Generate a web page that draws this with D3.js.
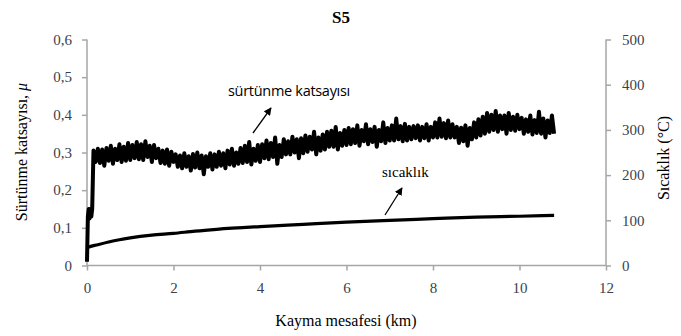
<!DOCTYPE html>
<html lang="tr">
<head>
<meta charset="UTF-8" />
<title>S5</title>
<script src="https://d3js.org/d3.v7.min.js"></script>
<style>
    body { margin: 0; background: #fff; }
</style>
</head>
<body>
<svg id="chart" width="681" height="336"></svg>
<script>
    // ticks
    const distanceTicks = [0, 2, 4, 6, 8, 10, 12];
    const muTicks = [0, 0.1, 0.2, 0.3, 0.4, 0.5, 0.6];
    const tempTicks = [0, 100, 200, 300, 400, 500];

    // friction coefficient: run-in part
    const muStartKm = [0, 0.02, 0.04, 0.06, 0.08, 0.10, 0.12];
    const muStart = [0.01, 0.13, 0.15, 0.125, 0.15, 0.13, 0.15];

    // friction coefficient: sampled every 0.05 km from 0.15 km
    const muFromKm = 0.15;
    const muStepKm = 0.05;
    const muValues = [
        0.305, 0.275, 0.31, 0.272, 0.308, 0.265, 0.312, 0.278, 0.318, 0.27, 0.31, 0.28, 0.322, 0.275, 0.315, 0.278, 0.325, 0.28,
        0.32, 0.285, 0.328, 0.282, 0.322, 0.28, 0.33, 0.288, 0.318, 0.275, 0.32, 0.285,
        0.31, 0.272, 0.305, 0.27, 0.308, 0.265, 0.302, 0.275,
        0.295, 0.262, 0.292, 0.258, 0.298, 0.262, 0.29, 0.252, 0.296, 0.26, 0.30, 0.258, 0.292, 0.242, 0.29, 0.262, 0.298, 0.255, 0.295, 0.262,
        0.302, 0.265, 0.298, 0.258, 0.305, 0.268, 0.31, 0.265, 0.30, 0.27,
        0.312, 0.272, 0.318, 0.275, 0.328, 0.268, 0.31, 0.278, 0.32, 0.275,
        0.322, 0.285, 0.332, 0.282, 0.325, 0.288, 0.34, 0.27, 0.32, 0.288,
        0.335, 0.295, 0.33, 0.295, 0.342, 0.30, 0.335, 0.285, 0.338, 0.298,
        0.345, 0.302, 0.342, 0.308, 0.355, 0.295, 0.34, 0.305, 0.348, 0.308,
        0.355, 0.315, 0.358, 0.315, 0.368, 0.308, 0.352, 0.318, 0.36, 0.32,
        0.365, 0.322, 0.362, 0.325, 0.372, 0.318, 0.36, 0.33, 0.375, 0.322, 0.362, 0.328, 0.368, 0.315, 0.36, 0.33, 0.38, 0.325, 0.365, 0.332,
        0.372, 0.332, 0.39, 0.335, 0.37, 0.33, 0.376, 0.332, 0.368, 0.335,
        0.37, 0.338, 0.372, 0.332, 0.368, 0.338, 0.375, 0.332, 0.368, 0.34,
        0.38, 0.34, 0.39, 0.342, 0.378, 0.338, 0.385, 0.34, 0.375, 0.34,
        0.368, 0.325, 0.366, 0.33, 0.372, 0.318, 0.365, 0.335,
        0.38, 0.34, 0.388, 0.345, 0.395, 0.35, 0.405, 0.355,
        0.40, 0.36, 0.41, 0.355, 0.398, 0.362, 0.398, 0.35, 0.405, 0.36, 0.395, 0.358, 0.40, 0.362,
        0.392, 0.35, 0.388, 0.355, 0.398, 0.348, 0.386, 0.352, 0.408, 0.35, 0.39, 0.34, 0.385, 0.352, 0.398, 0.35
    ];

    // temperature (°C)
    const tempKm = [0, 0.02, 0.25, 0.5, 0.75, 1, 1.5, 2, 2.5, 3, 4, 5, 6, 7, 8, 9, 10, 10.8];
    const tempValues = [39, 40, 46, 52, 57, 61, 67, 71, 76, 80, 86, 91, 96, 100, 103.5, 107, 109, 111];

    const serif = "'Liberation Serif', 'DejaVu Serif', 'Times New Roman', serif";
    const sans = "'Open Sans', 'Liberation Sans', sans-serif";

    const svg = d3.select("#chart");
    const plotL = 87, plotR = 606, plotT = 39.5, plotB = 265.5;

    const x = d3.scaleLinear().domain([0, 12]).range([plotL, plotR]);
    const yMu = d3.scaleLinear().domain([0, 0.6]).range([plotB, plotT]);
    const yTemp = d3.scaleLinear().domain([0, 500]).range([plotB, plotT]);

    const axisColor = "#a6a6a6";

    // axes
    const gx = svg.append("g").attr("transform", `translate(0,${plotB})`)
        .call(d3.axisBottom(x).tickValues(distanceTicks).tickSize(5).tickPadding(12).tickFormat(d3.format("d")));
    const gl = svg.append("g").attr("transform", `translate(${plotL},0)`)
        .call(d3.axisLeft(yMu).tickValues(muTicks).tickSize(5).tickPadding(10)
            .tickFormat(d => d === 0 ? "0" : d.toFixed(1).replace(".", ",")));
    const gr = svg.append("g").attr("transform", `translate(${plotR},0)`)
        .call(d3.axisRight(yTemp).tickValues(tempTicks).tickSize(5).tickPadding(11).tickFormat(d3.format("d")));

    [gx, gl, gr].forEach(g => {
        g.attr("font-family", serif).attr("font-size", 15);
        g.select(".domain").attr("stroke", axisColor).attr("stroke-width", 1.5);
        g.selectAll(".tick line").attr("stroke", axisColor).attr("stroke-width", 1.5);
        g.selectAll(".tick text").attr("fill", "#3a3f4f");
    });
    gx.select(".domain").attr("d", `M${plotL},0H${plotR}`);
    gl.select(".domain").attr("d", `M0,${plotT}V${plotB}`);
    gr.select(".domain").attr("d", `M0,${plotT}V${plotB}`);

    // friction line
    const muPoints = muStartKm.map((k, i) => [k, muStart[i]])
        .concat(muValues.map((v, i) => [muFromKm + i * muStepKm, v]));
    svg.append("path")
        .datum(muPoints)
        .attr("fill", "none")
        .attr("stroke", "#000")
        .attr("stroke-width", 4)
        .attr("stroke-linejoin", "round")
        .attr("d", d3.line().x(d => x(d[0])).y(d => yMu(d[1])));

    // temperature line
    svg.append("path")
        .datum(tempKm.map((k, i) => [k, tempValues[i]]))
        .attr("fill", "none")
        .attr("stroke", "#000")
        .attr("stroke-width", 3.2)
        .attr("d", d3.line().curve(d3.curveMonotoneX).x(d => x(d[0])).y(d => yTemp(d[1])));

    // titles
    svg.append("text").attr("x", 341).attr("y", 23).attr("text-anchor", "middle")
        .attr("font-family", serif).attr("font-size", 17).attr("font-weight", "bold").text("S5");
    svg.append("text").attr("x", 346).attr("y", 326).attr("text-anchor", "middle")
        .attr("font-family", serif).attr("font-size", 16).text("Kayma mesafesi (km)");
    svg.append("text")
        .attr("transform", "translate(27,152) rotate(-90)").attr("text-anchor", "middle")
        .attr("font-family", serif).attr("font-size", 16)
        .html("Sürtünme katsayısı, <tspan font-style='italic'>μ</tspan>");
    svg.append("text")
        .attr("transform", "translate(669,158) rotate(-90)").attr("text-anchor", "middle")
        .attr("font-family", serif).attr("font-size", 16)
        .text("Sıcaklık (°C)");

    // annotations
    svg.append("defs").append("marker")
        .attr("id", "head").attr("viewBox", "0 0 10 10").attr("refX", 9).attr("refY", 5)
        .attr("markerWidth", 6).attr("markerHeight", 6).attr("orient", "auto")
        .append("path").attr("d", "M0,0L10,5L0,10z").attr("fill", "#000");

    svg.append("text").attr("x", 228).attr("y", 96)
        .attr("font-family", sans).attr("font-size", 14.5).attr("letter-spacing", -0.3)
        .text("sürtünme katsayısı");
    svg.append("line").attr("x1", 253).attr("y1", 133).attr("x2", 271).attr("y2", 108)
        .attr("stroke", "#000").attr("stroke-width", 1.3).attr("marker-end", "url(#head)");

    svg.append("text").attr("x", 382).attr("y", 177)
        .attr("font-family", serif).attr("font-size", 15).text("sıcaklık");
    svg.append("line").attr("x1", 385).attr("y1", 215).attr("x2", 402).attr("y2", 188)
        .attr("stroke", "#000").attr("stroke-width", 1.3).attr("marker-end", "url(#head)");
</script>
</body>
</html>
